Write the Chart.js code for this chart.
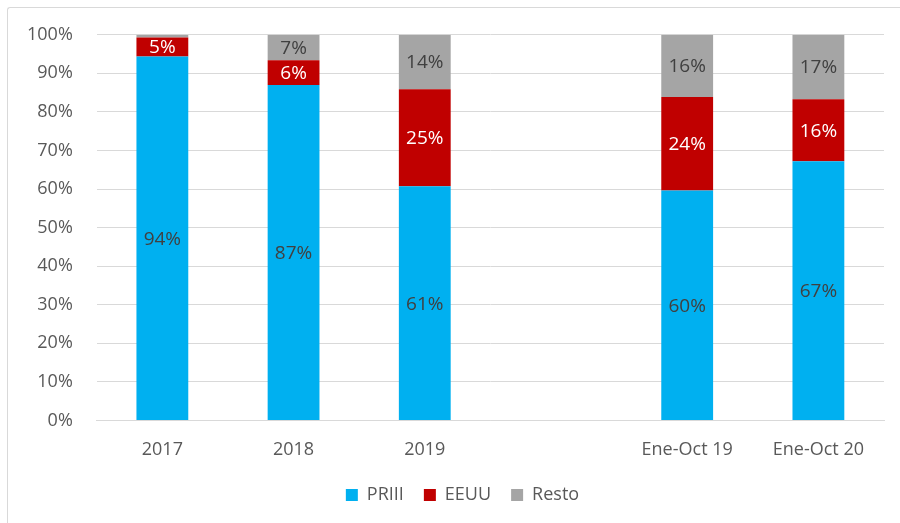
<!DOCTYPE html>
<html>
<head>
<meta charset="utf-8">
<script src="https://cdn.jsdelivr.net/npm/chart.js@4/dist/chart.umd.min.js"></script>
<style>
    body { margin: 0; background: #fff; }
    #wrap { position: relative; width: 900px; height: 523px; }
    #frame { position: absolute; left: 7px; top: 7px; width: 900px; height: 530px;
             border-left: 1px solid #d9d9d9; border-top: 1px solid #d9d9d9; border-radius: 3px; }
</style>
</head>
<body>
<div id="wrap">
    <div id="frame"></div>
    <canvas id="chart" width="900" height="523"></canvas>
</div>
<script>
const categories = ["2017", "2018", "2019", "", "Ene-Oct 19", "Ene-Oct 20"];
const priii = [94.4, 87.0, 60.7, null, 59.6, 67.2];
const eeuu = [4.9, 6.4, 25.2, null, 24.3, 16.1];
const resto = [0.7, 6.6, 14.1, null, 16.1, 16.7];
const yTicks = [0, 10, 20, 30, 40, 50, 60, 70, 80, 90, 100];

const labelColors = ["#404040", "#ffffff", "#404040"];

// draws the percentage inside each segment
const segmentLabels = {
    id: "segmentLabels",
    afterLayout(chart) {
        // legend sits a bit right of the canvas centre in the original, and a bit higher
        chart.legend.left += 38;
        chart.legend.top -= 6;
    },
    afterDatasetsDraw(chart) {
        const ctx = chart.ctx;
        ctx.save();
        ctx.font = "19px 'Open Sans', sans-serif";
        ctx.textAlign = "center";
        ctx.textBaseline = "middle";
        chart.data.datasets.forEach((ds, i) => {
            const meta = chart.getDatasetMeta(i);
            meta.data.forEach((bar, j) => {
                const v = ds.data[j];
                if (v == null || v < 2) return;
                const mid = (bar.y + bar.base) / 2;
                ctx.fillStyle = labelColors[i];
                ctx.fillText(Math.round(v) + "%", bar.x, mid + 1);
            });
        });
        ctx.restore();
    }
};

const axisFont = { family: "'Open Sans', sans-serif", size: 18 };

new Chart(document.getElementById("chart").getContext("2d"), {
    type: "bar",
    data: {
        labels: categories,
        datasets: [
            { label: "PRIII", data: priii, backgroundColor: "#00b0f0" },
            { label: "EEUU", data: eeuu, backgroundColor: "#c00000" },
            { label: "Resto", data: resto, backgroundColor: "#a5a5a5" }
        ]
    },
    options: {
        responsive: false,
        animation: false,
        layout: { padding: { left: 3, right: 16, top: 32, bottom: 3 } },
        datasets: { bar: { categoryPercentage: 1, barPercentage: 0.395 } },
        scales: {
            x: {
                stacked: true,
                grid: { display: false },
                border: { color: "#d9d9d9", width: 1 },
                ticks: { color: "#595959", font: axisFont, padding: 11 }
            },
            y: {
                stacked: true,
                min: 0,
                max: 100,
                afterBuildTicks: axis => { axis.ticks = yTicks.map(v => ({ value: v })); },
                grid: { color: "#d9d9d9", lineWidth: 1, drawTicks: false },
                border: { display: false },
                ticks: {
                    color: "#595959",
                    font: axisFont,
                    padding: 24,
                    callback: v => v + "%"
                }
            }
        },
        plugins: {
            legend: {
                position: "bottom",
                labels: {
                    color: "#595959",
                    font: axisFont,
                    boxWidth: 12,
                    boxHeight: 12,
                    padding: 20
                }
            },
            tooltip: { enabled: false }
        }
    },
    plugins: [segmentLabels]
});
</script>
</body>
</html>
